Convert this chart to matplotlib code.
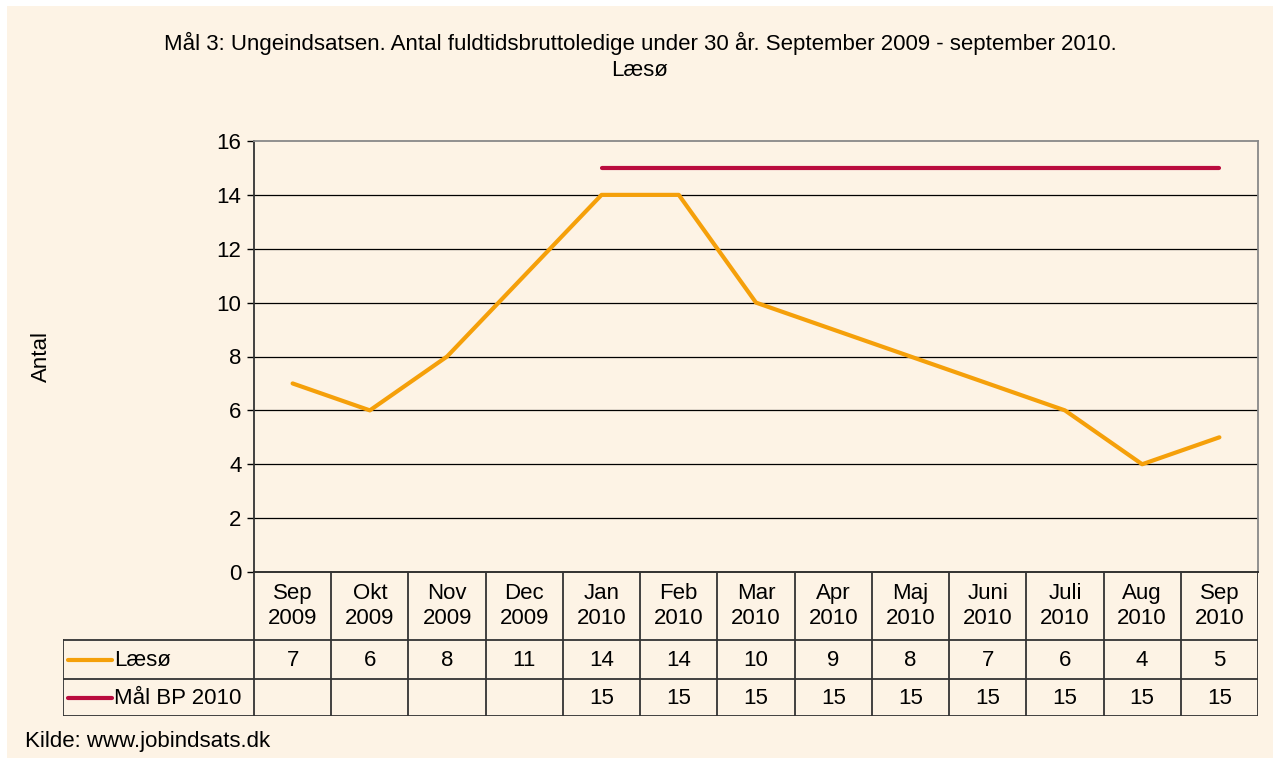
import matplotlib.pyplot as plt
from matplotlib.patches import Rectangle

months = ["Sep\n2009", "Okt\n2009", "Nov\n2009", "Dec\n2009", "Jan\n2010", "Feb\n2010",
          "Mar\n2010", "Apr\n2010", "Maj\n2010", "Juni\n2010", "Juli\n2010", "Aug\n2010", "Sep\n2010"]
laesoe = [7, 6, 8, 11, 14, 14, 10, 9, 8, 7, 6, 4, 5]
maal_bp = [None, None, None, None, 15, 15, 15, 15, 15, 15, 15, 15, 15]
series_names = ["Læsø", "Mål BP 2010"]
yticks = [0, 2, 4, 6, 8, 10, 12, 14, 16]

bg = "#FDF3E5"
orange = "#F5A00A"
red = "#BA0C3E"
W, H = 1273, 758
fs = 16

plt.rcParams['font.family'] = ['Liberation Sans', 'DejaVu Sans']
fig = plt.figure(figsize=(W / 100, H / 100), dpi=100, facecolor="white")
fig.patches.append(Rectangle((7 / W, 0), 1 - 7 / W, 1 - 6 / H, transform=fig.transFigure,
                             facecolor=bg, edgecolor="none", zorder=-10))

# plot area in pixels
x0, x1, ytop, ybot = 254, 1258, 141, 572
ax = fig.add_axes([x0 / W, 1 - ybot / H, (x1 - x0) / W, (ybot - ytop) / H])
ax.set_facecolor(bg)
n = len(months)
xs = list(range(n))
ax.set_xlim(-0.5, n - 0.5)
ax.set_ylim(0, 16)
ax.set_yticks(yticks)
ax.tick_params(axis="y", labelsize=fs, length=5, width=1, direction="out", pad=4)
ax.set_xticks([])
for y in yticks[1:-1]:
    ax.axhline(y, color="black", lw=0.9, zorder=1)
ax.spines["left"].set_color("#333333")
ax.spines["bottom"].set_color("#222222")
ax.spines["top"].set_color("#888888")
ax.spines["right"].set_color("#888888")
for s in ax.spines.values():
    s.set_linewidth(1.3)

ax.plot(xs, laesoe, color=orange, lw=3, solid_capstyle="round", zorder=3)
mx = [x for x, v in zip(xs, maal_bp) if v is not None]
my = [v for v in maal_bp if v is not None]
ax.plot(mx, my, color=red, lw=3, solid_capstyle="round", zorder=3)

fig.text(41 / W, 1 - 357 / H, "Antal", rotation=90, ha="center", va="center", fontsize=fs)

fig.text(640 / W, 1 - 43 / H,
         "Mål 3: Ungeindsatsen. Antal fuldtidsbruttoledige under 30 år. September 2009 - september 2010.",
         ha="center", va="center", fontsize=fs)
fig.text(640 / W, 1 - 70 / H, "Læsø", ha="center", va="center", fontsize=fs)

# data table below plot
tl, tb = 63, 716
colw = (x1 - x0) / n
tab = fig.add_axes([tl / W, 1 - tb / H, (x1 - tl) / W, (tb - ybot) / H])
tab.set_xlim(-0.5 - (x0 - tl) / colw, n - 0.5)
tab.set_ylim(tb - ybot, 0)
tab.axis("off")
r1, r2 = 640 - ybot, 679 - ybot
rend = tb - ybot
lc = "#333333"
lw = 1.3
left = -0.5 - (x0 - tl) / colw
tab.plot([left, n - 0.5], [r1, r1], color=lc, lw=lw)
tab.plot([left, n - 0.5], [r2, r2], color=lc, lw=lw)
tab.plot([left, n - 0.5], [rend, rend], color=lc, lw=lw)
tab.plot([left, left], [r1, rend], color=lc, lw=lw)
for i in range(n + 1):
    tab.plot([i - 0.5, i - 0.5], [0, rend], color=lc, lw=lw)
for i in range(n):
    tab.text(i, r1 / 2, months[i], ha="center", va="center", fontsize=fs, linespacing=1.25)
    tab.text(i, (r1 + r2) / 2 + 1, str(laesoe[i]), ha="center", va="center", fontsize=fs)
    if maal_bp[i] is not None:
        tab.text(i, (r2 + rend) / 2 + 1, str(maal_bp[i]), ha="center", va="center", fontsize=fs)

lx0 = left + 5 / colw
lx1 = left + 49 / colw
for name, c, yy in [(series_names[0], orange, (r1 + r2) / 2), (series_names[1], red, (r2 + rend) / 2)]:
    tab.plot([lx0, lx1], [yy, yy], color=c, lw=3, solid_capstyle="round")
    tab.text(lx1 + 2 / colw, yy + 1, name, ha="left", va="center", fontsize=fs)

fig.text(25 / W, 1 - 741 / H, "Kilde: www.jobindsats.dk", ha="left", va="center", fontsize=fs)

fig.savefig("out.png", dpi=100, facecolor=fig.get_facecolor())
